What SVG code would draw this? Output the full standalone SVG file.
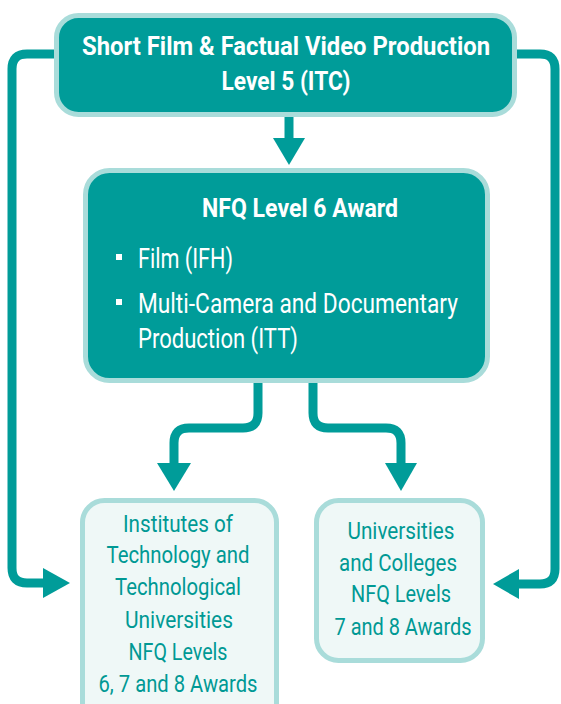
<svg xmlns="http://www.w3.org/2000/svg" width="561" height="704" viewBox="0 0 561 704">
<style>
.dark{fill:#009c99;stroke:#a9dcda;stroke-width:5}
.light{fill:#eff8f7;stroke:#a9dcda;stroke-width:5}
.conn{fill:none;stroke:#009c99;stroke-width:9}
.head{fill:#009c99}
.tw{font-family:Roboto,"Liberation Sans",sans-serif;fill:#ffffff;font-size:27px}
.twb{font-family:Roboto,"Liberation Sans",sans-serif;fill:#ffffff;font-size:26px;font-weight:bold}
.tt{font-family:Roboto,"Liberation Sans",sans-serif;fill:#009994;font-size:24px}
</style>
<rect width="561" height="704" fill="#ffffff"/>
<g id="connectors">
<path class="conn" d="M 56 54 H 27 Q 12 54 12 69 V 568 Q 12 583 27 583 H 46"/>
<polygon class="head" points="43,568 70,583 43,598"/>
<path class="conn" d="M 515 54 H 540 Q 555 54 555 69 V 569 Q 555 584 540 584 H 516"/>
<polygon class="head" points="519,569 493,584 519,599"/>
<path class="conn" d="M 289 117 V 140"/>
<polygon class="head" points="273,138 305,138 289,165"/>
<path class="conn" d="M 258 381 V 413 Q 258 428 243 428 H 189 Q 174 428 174 443 V 466"/>
<polygon class="head" points="157,463 191,463 174,491"/>
<path class="conn" d="M 313 381 V 413 Q 313 428 328 428 H 386 Q 401 428 401 443 V 466"/>
<polygon class="head" points="385,463 417,463 401,491"/>
</g>
<g id="top">
<rect class="dark" x="56.5" y="15.5" width="458" height="99" rx="22"/>
<text class="twb" x="286" y="55" text-anchor="middle" textLength="408" lengthAdjust="spacingAndGlyphs">Short Film &amp; Factual Video Production</text>
<text class="twb" x="286" y="90" text-anchor="middle" textLength="129" lengthAdjust="spacingAndGlyphs">Level 5 (ITC)</text>
</g>
<g id="middle">
<rect class="dark" x="85.5" y="170.5" width="402" height="210" rx="24"/>
<text class="twb" x="300" y="217" text-anchor="middle" textLength="196" lengthAdjust="spacingAndGlyphs" style="font-size:25px">NFQ Level 6 Award</text>
<rect x="116" y="254" width="6" height="6" fill="#ffffff"/>
<text class="tw" x="138" y="268" textLength="95" lengthAdjust="spacingAndGlyphs">Film (IFH)</text>
<rect x="116" y="299" width="6" height="6" fill="#ffffff"/>
<text class="tw" x="138" y="313" textLength="320" lengthAdjust="spacingAndGlyphs">Multi-Camera and Documentary</text>
<text class="tw" x="138" y="348" textLength="160" lengthAdjust="spacingAndGlyphs">Production (ITT)</text>
</g>
<g id="institutes">
<rect class="light" x="82.5" y="500.5" width="194" height="225" rx="22"/>
<text class="tt" x="178" y="532" text-anchor="middle" textLength="110" lengthAdjust="spacingAndGlyphs">Institutes of</text>
<text class="tt" x="178" y="563" text-anchor="middle" textLength="143" lengthAdjust="spacingAndGlyphs">Technology and</text>
<text class="tt" x="178" y="595" text-anchor="middle" textLength="126" lengthAdjust="spacingAndGlyphs">Technological</text>
<text class="tt" x="179" y="628" text-anchor="middle" textLength="108" lengthAdjust="spacingAndGlyphs">Universities</text>
<text class="tt" x="178" y="660" text-anchor="middle" textLength="99" lengthAdjust="spacingAndGlyphs">NFQ Levels</text>
<text class="tt" x="178" y="692" text-anchor="middle" textLength="159" lengthAdjust="spacingAndGlyphs">6, 7 and 8 Awards</text>
</g>
<g id="universities">
<rect class="light" x="316.5" y="500.5" width="166" height="160" rx="22"/>
<text class="tt" x="401" y="539" text-anchor="middle" textLength="107" lengthAdjust="spacingAndGlyphs">Universities</text>
<text class="tt" x="398" y="571" text-anchor="middle" textLength="118" lengthAdjust="spacingAndGlyphs">and Colleges</text>
<text class="tt" x="401" y="602" text-anchor="middle" textLength="100" lengthAdjust="spacingAndGlyphs">NFQ Levels</text>
<text class="tt" x="403" y="635" text-anchor="middle" textLength="137" lengthAdjust="spacingAndGlyphs">7 and 8 Awards</text>
</g>
</svg>
